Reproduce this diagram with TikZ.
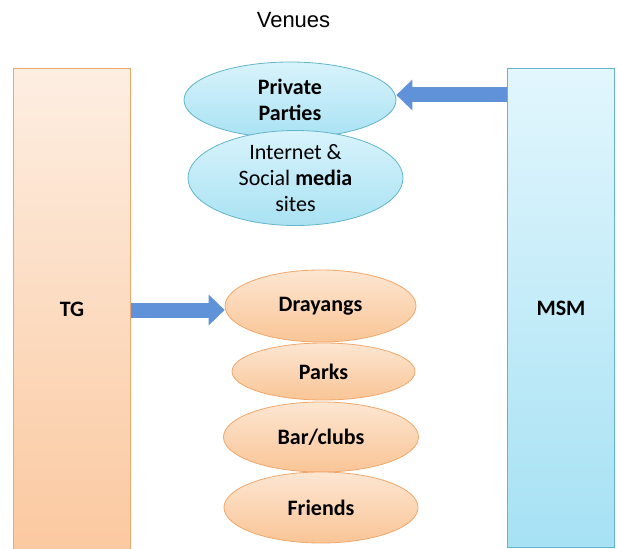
\documentclass[tikz,border=0pt]{standalone}
\usepackage{fontspec}
\setmainfont{Carlito}
\newfontfamily\venuesfont{Liberation Sans}
\usetikzlibrary{shapes.geometric,arrows.meta,calc}
\definecolor{orTop}{HTML}{FDEEE2}
\definecolor{orBot}{HTML}{FBC9A0}
\definecolor{orLine}{HTML}{F2A76A}
\definecolor{elTop}{HTML}{FDE6D2}
\definecolor{elBot}{HTML}{F9C596}
\definecolor{blTop}{HTML}{E2F6FD}
\definecolor{blBot}{HTML}{A6E1F4}
\definecolor{blLine}{HTML}{62B5CB}
\definecolor{ebTop}{HTML}{D8F3FB}
\definecolor{ebBot}{HTML}{A9E2F3}
\definecolor{arrowBlue}{HTML}{5F92D8}
\begin{document}
\begin{tikzpicture}[x=1pt,y=1pt,
  txt/.style={font=\fontsize{22}{26}\selectfont},
  orangebox/.style={draw=orLine, line width=1pt, top color=orTop, bottom color=orBot, inner sep=0pt, txt},
  bluebox/.style={draw=blLine, line width=1pt, top color=blTop, bottom color=blBot, inner sep=0pt, txt},
  orangeell/.style={ellipse, draw=orLine, line width=0.8pt, top color=elTop, bottom color=elBot, inner sep=0pt, align=center, txt},
  blueell/.style={ellipse, draw=blLine, line width=0.8pt, top color=ebTop, bottom color=ebBot, inner sep=0pt, align=center, txt},
  bigarrow/.style={arrowBlue, line width=15pt, -{Triangle[width=31pt,length=16pt,line width=0pt]}}
]
\useasboundingbox (0,0) rectangle (617,-548);
\node[font=\venuesfont\fontsize{22}{24}\selectfont] (venues) at (293.5,-20) {Venues};
\node[orangebox, minimum width=117pt, minimum height=482pt, anchor=north west] (tg) at (13,-68) {\raisebox{-4pt}{\textbf{TG}}};
\node[bluebox, minimum width=107pt, minimum height=479pt, anchor=north west] (msm) at (507,-68) {\raisebox{-6pt}{\textbf{MSM}}};
\node[blueell, minimum width=212pt, minimum height=76pt] (pp) at (290,-100) {\textbf{Private}\\\textbf{Parties}};
\node[blueell, minimum width=215pt, minimum height=78pt] (inet) at (295.5,-178) {Internet \&\\Social \textbf{media}\\sites};
\node[orangeell, minimum width=191pt, minimum height=72pt] (dray) at (320.5,-306) {\textbf{Drayangs}};
\node[orangeell, minimum width=183pt, minimum height=57pt] (parks) at (323.5,-371.5) {\textbf{Parks}};
\node[orangeell, minimum width=195pt, minimum height=70pt] (bar) at (321,-437) {\textbf{Bar/clubs}};
\node[orangeell, minimum width=194pt, minimum height=71pt] (friends) at (321,-507.5) {\textbf{Friends}};
\coordinate (a1s) at ($(msm.north west)!(pp.east)!(msm.south west)+(0,5)$);
\coordinate (a1e) at ($(pp.east)+(0,5)$);
\draw[bigarrow] (a1s) -- (a1e);
\coordinate (a2s) at ($(tg.north east)!(dray.west)!(tg.south east)+(0,-4)$);
\coordinate (a2e) at ($(dray.west)+(0,-4)$);
\draw[bigarrow] (a2s) -- (a2e);
\end{tikzpicture}
\end{document}
